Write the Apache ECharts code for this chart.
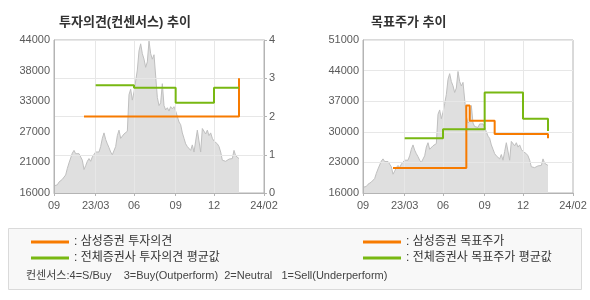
<!DOCTYPE html>
<html lang="ko">
<head>
<meta charset="utf-8">
<title>투자의견 / 목표주가 추이</title>
<script src="https://cdn.jsdelivr.net/npm/echarts@6/dist/echarts.min.js"></script>
<style>
  html, body { margin: 0; padding: 0; background: #fff; }
  #main { width: 590px; height: 300px; }
</style>
</head>
<body>
<div id="main"></div>
<script>
// Timeline slots (evenly spaced sample points across both charts)
const slotCount = 127;
const xTickIndex = [0, 25, 48, 73, 96, 126];
const xTickLabels = ['09', '23/03', '06', '09', '12', '24/02'];

// Daily close, sampled per slot
const price = [
  17300, 17000, 17500, 18000, 18300, 18500, 18600, 19300, 20500, 21500,
  21800, 23300, 23800, 23200, 23500, 23200, 23000, 22000, 20300, 21000,
  21800, 22300, 21800, 22600, 22300, 23500, 23200, 23500, 24500, 26000,
  27000, 25800, 25000, 24300, 23500, 23000, 23300, 24500, 26500, 27500,
  26000, 26200, 26800, 27000, 27300, 34000, 35000, 33000, 34500, 36500,
  38500, 42000, 43300, 41500, 40500, 39000, 40000, 43800, 41500, 40500,
  41300, 41000, 33500, 32000, 32500, 36000, 32000, 31200, 31600, 31000,
  31800, 31400, 31800, 31000, 30000, 29000, 28500, 27000, 26000, 25000,
  24500, 24500, 23800, 24800, 23500, 25500, 27500, 27800, 23500, 27800,
  27500, 26800, 27500, 26500, 27000, 26000, 25500, 25800, 25000, 24500,
  23500, 22000, 22200, 21800, 22000, 22200, 22000, 22300, 23800, 22800,
  22500, 22300
];

// Investment opinion (4=S/Buy, 3=Buy, 2=Neutral, 1=Sell)
const opinionSamsungSlot = [18, 111];
const opinionSamsungValue = [2, 3];
const opinionAvgSlot = [25, 48, 73, 96, 111];
const opinionAvgValue = [2.82, 2.75, 2.36, 2.75, 2.75];

// Target price
const targetSamsungSlot = [18, 62, 64, 79, 111];
const targetSamsungValue = [21700, 36000, 32500, 29500, 28500];
const targetAvgSlot = [25, 48, 73, 96, 111];
const targetAvgValue = [28500, 30600, 39000, 33000, 30200];

// Value-axis ticks
const leftPriceTicks = [16000, 21600, 27200, 32800, 38400, 44000];
const leftPriceLabels = ['16000', '21000', '27000', '33000', '38000', '44000'];
const opinionTicks = [0, 1, 2, 3, 4];
const rightPriceTicks = [16000, 23000, 30000, 37000, 44000, 51000];

const ORANGE = '#f77b00';
const GREEN = '#78b812';
const AXIS = '#b4b4b4';
const GRID = '#e7e7e7';
const LABEL = '#5a5a5a';
const FONT = "'Liberation Sans', 'Noto Sans CJK KR', sans-serif";

const slotNames = Array.from({ length: slotCount }, (_, i) => String(i));
const innerTicks = xTickIndex.slice(1, -1);
const pairs = (xs, ys) => xs.map((x, i) => [x, ys[i]]);
const nearestLabel = (ticks, labels, v) => {
  let best = 0;
  ticks.forEach((t, i) => { if (Math.abs(t - v) < Math.abs(ticks[best] - v)) best = i; });
  return labels[best];
};

function timeAxis(gridIndex) {
  return {
    type: 'category', gridIndex, boundaryGap: false, data: slotNames, z: 2,
    axisLine: { show: true, lineStyle: { color: AXIS } },
    axisTick: { show: true, length: 3, interval: (i) => xTickIndex.includes(i), lineStyle: { color: AXIS } },
    axisLabel: {
      interval: (i) => xTickIndex.includes(i),
      formatter: (v, i) => xTickLabels[xTickIndex.indexOf(Number(v))] || '',
      color: LABEL, fontSize: 11, fontFamily: FONT, margin: 7
    },
    splitLine: { show: true, interval: (i) => innerTicks.includes(i), lineStyle: { color: GRID } }
  };
}

function priceArea(xi, yi) {
  return {
    type: 'line', xAxisIndex: xi, yAxisIndex: yi, data: price, z: 1,
    showSymbol: false, silent: true,
    lineStyle: { color: '#bfbfbf', width: 1 },
    areaStyle: { color: '#dfdfdf', opacity: 1 }
  };
}

function stepLine(name, color, xi, yi, xs, ys) {
  return {
    name, type: 'line', step: 'end', xAxisIndex: xi, yAxisIndex: yi, z: 3,
    data: pairs(xs, ys), color, showSymbol: false, silent: true,
    lineStyle: { color, width: 2 }
  };
}

const chart = echarts.init(document.getElementById('main'), null, { renderer: 'canvas' });
chart.setOption({
  animation: false,
  backgroundColor: '#ffffff',
  title: [
    { text: '투자의견(컨센서스) 추이', left: 54, top: 11,
      textStyle: { fontSize: 13, fontWeight: 'bold', color: '#333', fontFamily: FONT } },
    { text: '목표주가 추이', left: 366, top: 11,
      textStyle: { fontSize: 13, fontWeight: 'bold', color: '#333', fontFamily: FONT } }
  ],
  grid: [
    { left: 54, top: 40, width: 210, height: 153, show: true, borderColor: AXIS, borderWidth: 1, backgroundColor: 'transparent' },
    { left: 363, top: 40, width: 210, height: 153, show: true, borderColor: AXIS, borderWidth: 1, backgroundColor: 'transparent' }
  ],
  xAxis: [timeAxis(0), timeAxis(1)],
  yAxis: [
    { type: 'value', gridIndex: 0, position: 'left', min: 16000, max: 44000, z: 2,
      axisLine: { show: true, lineStyle: { color: AXIS } },
      axisTick: { show: false, customValues: leftPriceTicks },
      splitLine: { show: false },
      axisLabel: { customValues: leftPriceTicks, formatter: (v) => nearestLabel(leftPriceTicks, leftPriceLabels, v),
        color: LABEL, fontSize: 11, fontFamily: FONT, margin: 4 } },
    { type: 'value', gridIndex: 0, position: 'right', min: 0, max: 4, interval: 1, z: 2,
      axisLine: { show: true, lineStyle: { color: AXIS } },
      axisTick: { show: true, length: 3, lineStyle: { color: AXIS } },
      splitLine: { show: true, lineStyle: { color: GRID } },
      axisLabel: { formatter: (v) => nearestLabel(opinionTicks, opinionTicks.map(String), v),
        color: LABEL, fontSize: 11, fontFamily: FONT, margin: 5 } },
    { type: 'value', gridIndex: 1, position: 'left', min: 16000, max: 51000, z: 2,
      axisLine: { show: true, lineStyle: { color: AXIS } },
      axisTick: { show: false, customValues: rightPriceTicks },
      splitLine: { show: true, lineStyle: { color: GRID } },
      axisLabel: { customValues: rightPriceTicks, formatter: (v) => String(Math.round(v)),
        color: LABEL, fontSize: 11, fontFamily: FONT, margin: 4 } }
  ],
  legend: [
    { left: 26, top: 231, orient: 'vertical', itemWidth: 38, itemHeight: 3, itemGap: 4, icon: 'rect',
      selectedMode: false, formatter: ': {name}',
      data: ['삼성증권 투자의견', '전체증권사 투자의견 평균값'],
      textStyle: { fontSize: 12, color: '#333', fontFamily: FONT } },
    { left: 358, top: 231, orient: 'vertical', itemWidth: 38, itemHeight: 3, itemGap: 4, icon: 'rect',
      selectedMode: false, formatter: ': {name}',
      data: ['삼성증권 목표주가', '전체증권사 목표주가 평균값'],
      textStyle: { fontSize: 12, color: '#333', fontFamily: FONT } }
  ],
  graphic: [
    { type: 'rect', z: 0, silent: true,
      shape: { x: 8.5, y: 228.5, width: 573, height: 61 },
      style: { fill: '#f8f8f8', stroke: '#dadada', lineWidth: 1 } },
    { type: 'text', z: 1, silent: true, left: 26, top: 270,
      style: { text: '컨센서스:4=S/Buy    3=Buy(Outperform)  2=Neutral   1=Sell(Underperform)',
        fill: '#444', font: "11px 'Liberation Sans', 'Noto Sans CJK KR', sans-serif" } }
  ],
  series: [
    priceArea(0, 0),
    stepLine('삼성증권 투자의견', ORANGE, 0, 1, opinionSamsungSlot, opinionSamsungValue),
    stepLine('전체증권사 투자의견 평균값', GREEN, 0, 1, opinionAvgSlot, opinionAvgValue),
    priceArea(1, 2),
    stepLine('삼성증권 목표주가', ORANGE, 1, 2, targetSamsungSlot, targetSamsungValue),
    stepLine('전체증권사 목표주가 평균값', GREEN, 1, 2, targetAvgSlot, targetAvgValue)
  ]
});
</script>
</body>
</html>
